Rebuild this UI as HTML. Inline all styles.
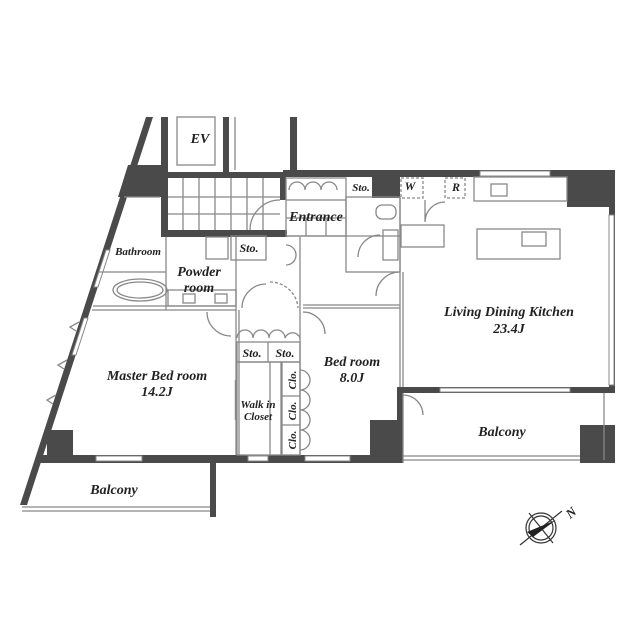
<!DOCTYPE html>
<html><head><meta charset="utf-8"><style>
html,body{margin:0;padding:0;background:#fff;}
svg{display:block;}
text{font-family:"Liberation Serif",serif;font-style:italic;font-weight:bold;fill:#222;}
</style></head><body>
<svg width="640" height="640" viewBox="0 0 640 640" xmlns="http://www.w3.org/2000/svg">
<g fill="#4a4a4a" stroke="none">
<polygon points="146,117 153,117 27,505 20,505"/>
<polygon points="128,165 167,165 167,197 118,197"/>
<rect x="161" y="117" width="7" height="120"/>
<rect x="223" y="117" width="6" height="60"/>
<rect x="290" y="117" width="7" height="58"/>
<rect x="161" y="172" width="124" height="6"/>
<rect x="161" y="230" width="126" height="7"/>
<rect x="280" y="172" width="6" height="28"/>
<rect x="283" y="170" width="332" height="7"/>
<rect x="372" y="170" width="28" height="28"/>
<rect x="567" y="170" width="48" height="37"/>
<rect x="609" y="170" width="6" height="223"/>
<rect x="397" y="387" width="218" height="6"/>
<rect x="580" y="425" width="35" height="38"/>
<rect x="370" y="420" width="33" height="43"/>
<rect x="397" y="387" width="6" height="76"/>
<rect x="40" y="455" width="363" height="8"/>
<rect x="47" y="430" width="26" height="33"/>
<rect x="210" y="460" width="6" height="57"/>
</g>
<g fill="#fff" stroke="#888" stroke-width="1">
<rect x="96" y="456" width="46" height="5"/>
<rect x="248" y="456" width="20" height="5"/>
<rect x="305" y="456" width="45" height="5"/>
<rect x="440" y="388" width="130" height="4"/>
<rect x="609" y="215" width="5" height="170"/>
<rect x="480" y="171" width="70" height="5"/>
<polygon points="106,250 110,250 98,287 94,287"/>
<polygon points="84,318 88,318 76,355 72,355"/>
</g>
<g fill="none" stroke="#888" stroke-width="1.3">
<rect x="177" y="117" width="38" height="48"/>
<line x1="235" y1="117" x2="235" y2="170"/>
<path d="M168,197H280M168,214H280M183,178V230M199,178V230M215,178V230M231,178V230M247,178V230M263,178V230"/>
<rect x="286" y="178" width="60" height="58"/>
<path d="M286,200H346M286,218H346M306,218V236M326,218V236"/>
<path d="M286,236H400"/>
<rect x="346" y="197" width="54" height="75"/>
<rect x="383" y="230" width="15" height="30"/>
<rect x="376" y="205" width="20" height="14" rx="6"/>
<rect x="401" y="178" width="22" height="20" stroke-dasharray="3,2"/>
<rect x="445" y="178" width="20" height="20" stroke-dasharray="3,2"/>
<rect x="401" y="225" width="43" height="22"/>
<rect x="474" y="177" width="93" height="24"/>
<rect x="491" y="184" width="16" height="12"/>
<rect x="477" y="229" width="83" height="30"/>
<rect x="522" y="232" width="24" height="14"/>
<path d="M400,198V387M403,272V387"/>
<path d="M300,237V455M303,305H400M303,308H400"/>
<path d="M236,237V455M239,310V455"/>
<path d="M166,237V310M124,197H160M99,272H166M92,310H236M93,306H236"/>
<ellipse cx="140" cy="290" rx="27" ry="11"/>
<ellipse cx="140" cy="290" rx="23" ry="8"/>
<rect x="168" y="290" width="68" height="16"/>
<rect x="183" y="294" width="12" height="9"/>
<rect x="215" y="294" width="12" height="9"/>
<rect x="231" y="236" width="35" height="24"/>
<rect x="206" y="237" width="22" height="22"/>
<rect x="237" y="342" width="63" height="20"/>
<path d="M268,342V362"/>
<rect x="237" y="362" width="44" height="93"/>
<path d="M270,362V455"/>
<rect x="282" y="362" width="18" height="93"/>
<path d="M282,396H300M282,425H300"/>
<path d="M236,380V420" stroke-width="2.5"/>
<path d="M403,393V463M403,460H580M403,456H580M22,507H210M22,511H210"/>
<path d="M604,393V460"/>
<path d="M280,200A30,30 0 0 0 250,230"/>
<path d="M400,272A24,24 0 0 0 376,296"/>
<path d="M403,395A20,20 0 0 1 423,415"/>
<path d="M303,312A22,22 0 0 1 325,334"/>
<path d="M266,284A24,24 0 0 0 242,308"/>
<path d="M207,312A24,24 0 0 0 231,336"/>
<path d="M237,338a8,8 0 0 1 16,0a8,8 0 0 1 16,0a8,8 0 0 1 16,0a8,8 0 0 1 15,0"/>
<path d="M300,370a10,10 0 0 1 0,20a10,10 0 0 1 0,20a10,10 0 0 1 0,20a10,10 0 0 1 0,20"/>
<path d="M289,190a8,8 0 0 1 16,0a8,8 0 0 1 16,0a8,8 0 0 1 16,0"/>
<path d="M286,245a10,10 0 0 1 0,20"/>
<path d="M380,235A22,22 0 0 0 358,257"/>
<path d="M425,200V222A20,20 0 0 1 445,202"/>
<path d="M270,282A28,28 0 0 1 298,308" stroke-dasharray="3,2"/>
<path d="M79,322l-9,5l6,4M67,360l-9,5l6,4M56,395l-9,5l6,4"/>
</g>
<text x="200" y="143" font-size="14" text-anchor="middle">EV</text>
<text x="316" y="221" font-size="14" text-anchor="middle">Entrance</text>
<text x="361" y="191" font-size="11" text-anchor="middle">Sto.</text>
<text x="410" y="190" font-size="12" text-anchor="middle">W</text>
<text x="456" y="191" font-size="12" text-anchor="middle">R</text>
<text x="138" y="255" font-size="11" text-anchor="middle">Bathroom</text>
<text x="249" y="252" font-size="12" text-anchor="middle">Sto.</text>
<text x="199" y="276" font-size="14" text-anchor="middle">Powder</text>
<text x="199" y="292" font-size="14" text-anchor="middle">room</text>
<text x="509" y="316" font-size="14" text-anchor="middle">Living Dining Kitchen</text>
<text x="509" y="333" font-size="14" text-anchor="middle">23.4J</text>
<text x="157" y="380" font-size="14" text-anchor="middle">Master Bed room</text>
<text x="157" y="396" font-size="14" text-anchor="middle">14.2J</text>
<text x="352" y="366" font-size="14" text-anchor="middle">Bed room</text>
<text x="352" y="382" font-size="14" text-anchor="middle">8.0J</text>
<text x="252" y="357" font-size="12" text-anchor="middle">Sto.</text>
<text x="285" y="357" font-size="12" text-anchor="middle">Sto.</text>
<text x="258" y="408" font-size="11" text-anchor="middle">Walk in</text>
<text x="258" y="420" font-size="11" text-anchor="middle">Closet</text>
<text transform="translate(296,380) rotate(-90)" font-size="11" text-anchor="middle">Clo.</text>
<text transform="translate(296,411) rotate(-90)" font-size="11" text-anchor="middle">Clo.</text>
<text transform="translate(296,440) rotate(-90)" font-size="11" text-anchor="middle">Clo.</text>
<text x="502" y="436" font-size="14" text-anchor="middle">Balcony</text>
<text x="114" y="494" font-size="14" text-anchor="middle">Balcony</text>
<g fill="none" stroke="#333" stroke-width="1.2">
<circle cx="541" cy="528" r="15"/>
<circle cx="541" cy="528" r="12"/>
<line x1="520" y1="545" x2="562" y2="511"/>
<line x1="529" y1="513" x2="553" y2="543"/>
</g>
<polygon points="527,532 556,520 533,537" fill="#222"/>
<text x="567" y="518" font-size="13" transform="rotate(-40,570,514)">N</text>
</svg>
</body></html>
